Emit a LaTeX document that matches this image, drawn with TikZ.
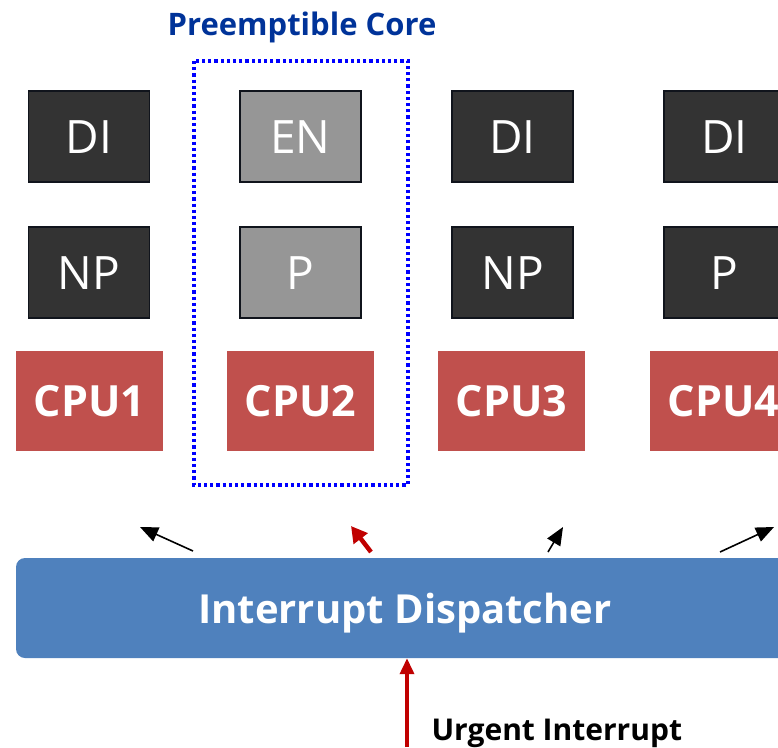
\documentclass[tikz,border=0pt]{standalone}
\usepackage{fontspec}
\setmainfont{Open Sans}
\usetikzlibrary{arrows.meta}
\definecolor{darkbox}{HTML}{333333}
\definecolor{darkedge}{HTML}{10141C}
\definecolor{greybox}{HTML}{969696}
\definecolor{cpured}{HTML}{C0504D}
\definecolor{dispblue}{HTML}{4F81BD}
\definecolor{titleblue}{HTML}{003399}
\definecolor{urgentred}{HTML}{C00000}
\begin{document}
\begin{tikzpicture}[x=1pt,y=-1pt,
  statebox/.style={draw=darkedge,line width=1.2pt,fill=darkbox,text=white,
    minimum width=121pt,minimum height=91pt,inner sep=0pt,
    text height=33pt,text depth=0pt,
    font=\fontsize{46}{46}\selectfont},
  greystate/.style={statebox,fill=greybox},
  cpubox/.style={fill=cpured,text=white,minimum width=147pt,minimum height=100pt,
    inner sep=0pt,text height=31pt,text depth=0pt,
    font=\fontsize{43}{43}\selectfont\bfseries},
  thinarrow/.style={-{Triangle[length=18pt,width=15pt]},line width=1.6pt,black},
  redarrow/.style={-{Triangle[length=16pt,width=14pt]},line width=3.6pt,urgentred}]
\useasboundingbox (0,0) rectangle (778,747);

% title of the highlighted core
\node[text=titleblue,font=\fontsize{31}{31}\selectfont\bfseries] (title) at (302,27) {Preemptible Core};
\draw[blue,line width=3.2pt,dash pattern=on 3.2pt off 3pt] (194,61) rectangle (408,485);

% upper row of states
\node[statebox]   (di1) at (89,136.5) {DI};
\node[greystate]  (en2) at (300.5,136.5) {EN};
\node[statebox]   (di3) at (512.5,136.5) {DI};
\node[statebox]   (di4) at (724.5,136.5) {DI};

% lower row of states
\node[statebox]   (np1) at (89,272.5) {NP};
\node[greystate]  (p2)  at (300.5,272.5) {P};
\node[statebox]   (np3) at (512.5,272.5) {NP};
\node[statebox]   (p4)  at (724.5,272.5) {P};

% processors
\node[cpubox] (cpu1) at (89.5,401) {CPU1};
\node[cpubox] (cpu2) at (300.5,401) {CPU2};
\node[cpubox] (cpu3) at (511.5,401) {CPU3};
\node[cpubox] (cpu4) at (723.5,401) {CPU4};

% dispatcher
\node[fill=dispblue,rounded corners=9pt,minimum width=778pt,minimum height=100pt,
  inner sep=0pt,text height=31pt,text depth=0pt,text=white,
  font=\fontsize{40}{40}\selectfont\bfseries]
  (disp) at (405,608) {Interrupt Dispatcher};

% dispatch arrows
\coordinate (a1s) at (193,551); \coordinate (a1e) at (140,527);
\coordinate (a2s) at (371,552); \coordinate (a2e) at (351,526);
\coordinate (a3s) at (548,552); \coordinate (a3e) at (563,527);
\coordinate (a4s) at (720,552); \coordinate (a4e) at (774,527);
\draw[thinarrow] (a1s) -- (a1e);
\draw[redarrow,line width=4.5pt,-{Triangle[length=16pt,width=17pt]}] (a2s) -- (a2e);
\draw[thinarrow] (a3s) -- (a3e);
\draw[thinarrow] (a4s) -- (a4e);

% incoming urgent interrupt
\coordinate (urg) at (407,747);
\draw[redarrow] (urg) -- (disp.south -| urg);
\node[anchor=base west,font=\fontsize{30}{30}\selectfont\bfseries] (ulabel) at (428,740) {Urgent Interrupt};
\end{tikzpicture}
\end{document}
